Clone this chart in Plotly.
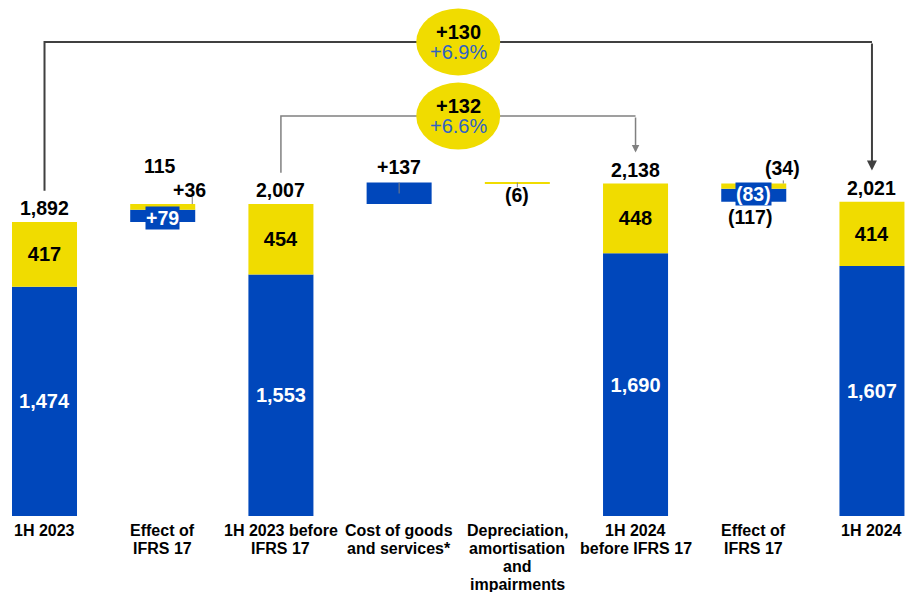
import plotly.graph_objects as go

# Bridge of EBITDA-style components, 1H 2023 -> 1H 2024
categories = [
    "1H 2023",
    "Effect of<br>IFRS 17",
    "1H 2023 before<br>IFRS 17",
    "Cost of goods<br>and services*",
    "Depreciation,<br>amortisation<br>and<br>impairments",
    "1H 2024<br>before IFRS 17",
    "Effect of<br>IFRS 17",
    "1H 2024",
]
is_total = [True, False, True, False, False, True, False, True]
blue_vals = [1474, 79, 1553, 137, 0, 1690, -83, 1607]
yellow_vals = [417, 36, 454, 0, -6, 448, -34, 414]
step_labels = ["1,892", "115", "2,007", "+137", "(6)", "2,138", "(117)", "2,021"]
blue_labels = ["1,474", "+79", "1,553", "", "", "1,690", "(83)", "1,607"]
yellow_labels = ["417", "+36", "454", "", "", "448", "(34)", "414"]

growth_all = ("+130", "+6.9%")      # 1H 2023 -> 1H 2024
growth_pre = ("+132", "+6.6%")      # before IFRS 17

BLUE = "#0047BB"
YELLOW = "#F0DC00"
PCT_BLUE = "#2F62C4"
FONT = "Liberation Sans, Arial, sans-serif"

x = list(range(len(categories)))

# Running level for floating bars; totals start from zero
blue_base, yellow_base, tops, bottoms = [], [], [], []
level = 0
for i in x:
    b, yv = blue_vals[i], yellow_vals[i]
    if is_total[i]:
        blue_base.append(0)
        yellow_base.append(b)
        level = b + yv
        tops.append(level)
        bottoms.append(0)
    elif b + yv >= 0:
        blue_base.append(level)
        yellow_base.append(level + b)
        bottoms.append(level)
        level = level + b + yv
        tops.append(level)
    else:
        yellow_base.append(level)
        blue_base.append(level + yv)
        tops.append(level)
        level = level + b + yv
        bottoms.append(level)

fig = go.Figure()
bar_w = 0.55
fig.add_trace(go.Bar(
    x=x, y=blue_vals, base=blue_base, width=bar_w,
    marker=dict(color=BLUE, line=dict(width=0)),
    text=[blue_labels[i] if is_total[i] else "" for i in x],
    textposition="inside", insidetextanchor="middle",
    textfont=dict(family=FONT, size=20, color="white", weight="bold"),
    constraintext="none", hoverinfo="skip",
))
fig.add_trace(go.Bar(
    x=x, y=yellow_vals, base=yellow_base, width=bar_w,
    marker=dict(color=YELLOW, line=dict(width=0)),
    text=[yellow_labels[i] if is_total[i] else "" for i in x],
    textposition="inside", insidetextanchor="middle",
    textfont=dict(family=FONT, size=20, color="black", weight="bold"),
    constraintext="none", hoverinfo="skip",
))

ann = []
lab_font = dict(family=FONT, size=19.5, color="black", weight="bold")
box_font = dict(family=FONT, size=19.5, color="white", weight="bold")
cat_font = dict(family=FONT, size=16, color="black", weight="bold")

# Category names under the bars, one line at a time for tight line spacing
for i, name in enumerate(categories):
    for k, line in enumerate(name.split("<br>")):
        ann.append(dict(x=i, y=0, yref="paper", text=line, showarrow=False,
                        yanchor="middle", yshift=-(14 + 18 * k), font=cat_font))

# Totals above bars
for i in x:
    if is_total[i]:
        ann.append(dict(x=i, y=tops[i], text=step_labels[i], showarrow=False,
                        yanchor="bottom", yshift=1, font=lab_font))

# Effect of IFRS 17 (2023)
ann.append(dict(x=0.98, y=tops[1], text=step_labels[1], showarrow=False,
                yanchor="middle", yshift=38, font=lab_font))
ann.append(dict(x=1.23, y=tops[1], text=yellow_labels[1], showarrow=False,
                yanchor="middle", yshift=14, font=lab_font))
ann.append(dict(x=1.0, y=blue_base[1] + blue_vals[1] / 2, text=blue_labels[1],
                showarrow=False, yanchor="middle", yshift=-2, bgcolor=BLUE,
                borderpad=0, font=box_font))
# Cost of goods
ann.append(dict(x=3, y=tops[3], text=step_labels[3], showarrow=False,
                yanchor="middle", yshift=16, font=lab_font))
# Depreciation
ann.append(dict(x=4, y=bottoms[4], text=step_labels[4], showarrow=False,
                yanchor="middle", yshift=-11, font=lab_font))
# Effect of IFRS 17 (2024)
ann.append(dict(x=6.24, y=tops[6], text=yellow_labels[6], showarrow=False,
                yanchor="middle", yshift=16, font=lab_font))
ann.append(dict(x=6.0, y=blue_base[6] + blue_vals[6] / 2, text=blue_labels[6],
                showarrow=False, yanchor="middle", yshift=1, bgcolor=BLUE,
                borderpad=0, font=box_font))
ann.append(dict(x=5.97, y=bottoms[6], text=step_labels[6], showarrow=False,
                yanchor="middle", yshift=-15, font=lab_font))

shapes = []
# Small leader ticks
for xi, y0, y1 in [(1.25, tops[1], tops[1] + 45), (3, tops[3] - 70, tops[3]),
                   (4, tops[3] + yellow_vals[4] - 25, tops[3]), (6.25, tops[6], tops[6] + 20)]:
    shapes.append(dict(type="line", x0=xi, x1=xi, y0=y0, y1=y1,
                       line=dict(color="#7F7F7F", width=1)))

# Growth brackets
pad = 200
top_hi, top_lo = 3048, 2572
shapes.append(dict(type="path",
                   path=f"M 0,{tops[0] + pad} L 0,{top_hi} L 7,{top_hi}",
                   line=dict(color="#404040", width=2)))
ann.append(dict(x=7, y=tops[7] + pad, ax=7, ay=top_hi, axref="x", ayref="y",
                showarrow=True, arrowhead=2, arrowsize=1, arrowwidth=2,
                arrowcolor="#404040", text=""))
shapes.append(dict(type="path",
                   path=f"M 2,{tops[2] + pad} L 2,{top_lo} L 5,{top_lo}",
                   line=dict(color="#808080", width=1.5)))
ann.append(dict(x=5, y=tops[5] + pad, ax=5, ay=top_lo, axref="x", ayref="y",
                showarrow=True, arrowhead=2, arrowsize=1, arrowwidth=1.5,
                arrowcolor="#808080", text=""))

for yc, (absv, pct) in [(top_hi, growth_all), (top_lo, growth_pre)]:
    shapes.append(dict(type="circle", x0=3.5 - 0.355, x1=3.5 + 0.355,
                       y0=yc - 215, y1=yc + 215, fillcolor=YELLOW,
                       line=dict(width=0), layer="above"))
    ann.append(dict(x=3.5, y=yc, text=absv, showarrow=False, yanchor="middle",
                    yshift=10, font=dict(family=FONT, size=20, color="black", weight="bold")))
    ann.append(dict(x=3.5, y=yc, text=pct, showarrow=False, yanchor="middle",
                    yshift=-10, font=dict(family=FONT, size=20, color=PCT_BLUE)))

fig.update_layout(
    width=906, height=592,
    margin=dict(l=0, r=0, t=0, b=76, autoexpand=False),
    paper_bgcolor="white", plot_bgcolor="white",
    barmode="overlay", showlegend=False,
    annotations=ann, shapes=shapes,
    xaxis=dict(range=[-0.3765, 7.288], tickmode="array", tickvals=x,
               showticklabels=False, showgrid=False, zeroline=False,
               showline=False, ticks="", automargin=False),
    yaxis=dict(range=[0, 3318], visible=False, showgrid=False, automargin=False),
)

fig.write_html("out.html")
